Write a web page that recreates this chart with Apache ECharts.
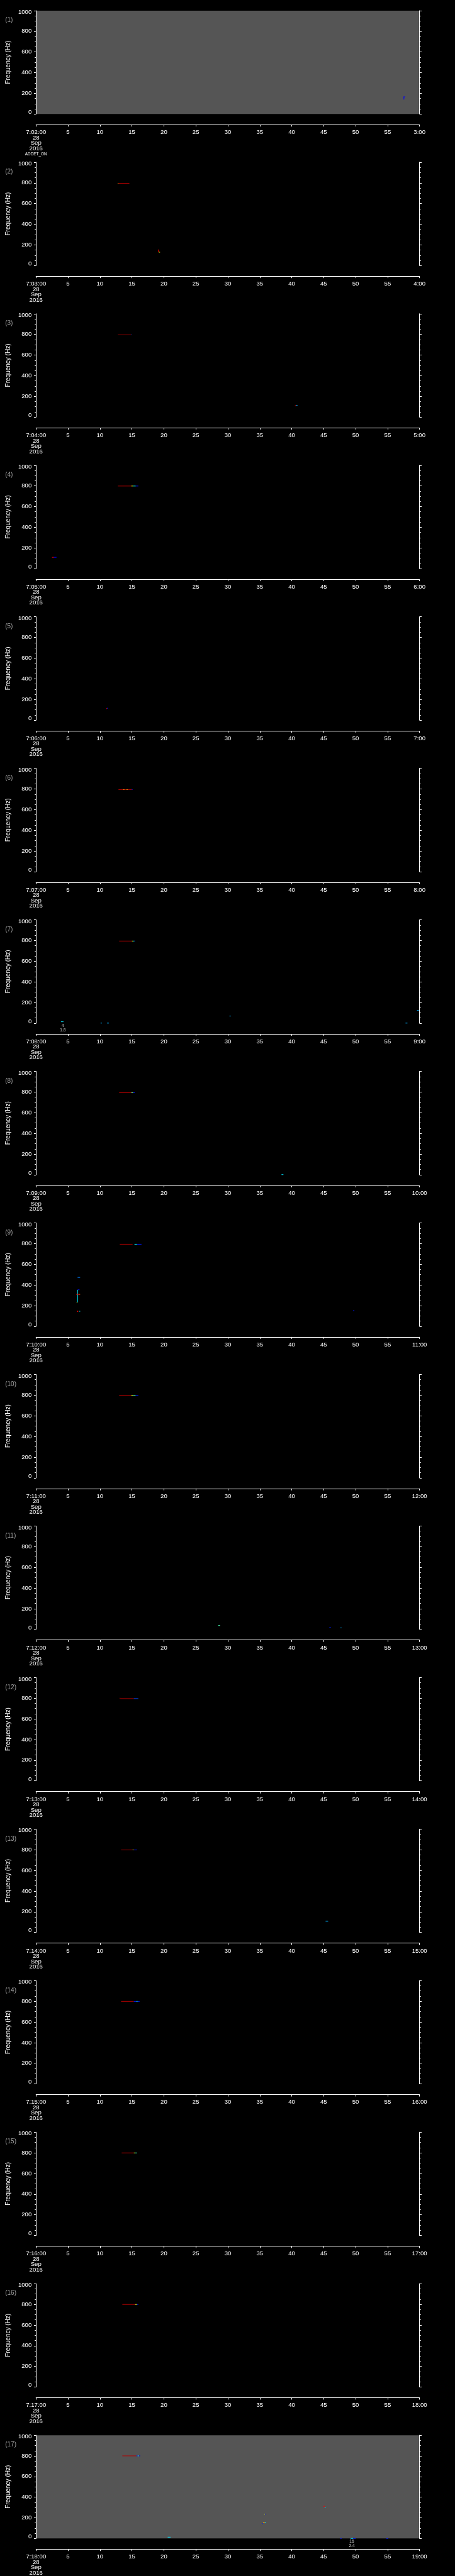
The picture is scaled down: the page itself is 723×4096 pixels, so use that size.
<!DOCTYPE html>
<html>
<head>
<meta charset="utf-8">
<script src="https://cdn.jsdelivr.net/npm/echarts@6/dist/echarts.min.js"></script>
<style>
  html, body { margin: 0; padding: 0; background: #000; }
  #chart { width: 723px; height: 4096px; }
</style>
</head>
<body>
<div id="chart"></div>
<script>
// one panel per minute, 7:02 .. 7:18
var startLabels = ['7:02:00', '7:03:00', '7:04:00', '7:05:00', '7:06:00', '7:07:00', '7:08:00', '7:09:00', '7:10:00',
    '7:11:00', '7:12:00', '7:13:00', '7:14:00', '7:15:00', '7:16:00', '7:17:00', '7:18:00'];
var endLabels = ['3:00', '4:00', '5:00', '6:00', '7:00', '8:00', '9:00', '10:00', '11:00',
    '12:00', '13:00', '14:00', '15:00', '16:00', '17:00', '18:00', '19:00'];
var dateLines = ['28', 'Sep', '2016'];
var firstPanelTag = 'ADDET_ON';
var timeRange = [0, 60], timeStep = 5;
var freqRange = [0, 1000], freqStep = 200;
var greyPanels = [1, 17];

// marks: [t0 s, t1 s, f0 Hz, f1 Hz, level 0..1]
var p01 = [[57.5, 57.6, 140, 168, 0.12], [57.5, 57.75, 165, 169, 0.12]];
var p02 = [[12.8, 12.9, 794, 798, 0.62], [12.9, 14.6, 794, 798, 0.95], [19.1, 19.2, 130, 155, 0.88], [19.2, 19.4, 128, 132, 0.62]];
var p03 = [[12.8, 14.9, 794, 798, 0.95], [14.9, 15.0, 794, 798, 0.2], [40.5, 40.7, 108, 113, 0.88], [40.7, 40.9, 110, 116, 0.3]];
var p04 = [[12.8, 14.9, 798, 802, 0.95], [14.9, 15.2, 798, 802, 0.62], [15.2, 15.6, 798, 802, 0.38], [15.6, 16.0, 798, 802, 0.15],
    [2.5, 2.8, 107, 112, 0.88], [2.8, 3.2, 107, 112, 0.12]];
var p05 = [[11.0, 11.1, 110, 114, 0.88], [11.1, 11.25, 112, 118, 0.15]];
var p06 = [[12.9, 15.0, 794, 798, 0.95], [13.7, 13.8, 794, 798, 0.62], [14.2, 14.3, 794, 798, 0.62], [15.0, 15.1, 794, 798, 0.15]];
var p07 = [[13.0, 15.0, 794, 798, 0.95], [15.0, 15.2, 794, 798, 0.62], [15.2, 15.4, 794, 798, 0.38], [15.4, 15.5, 794, 798, 0.15],
    [3.9, 4.3, 13, 17, 0.35], [10.1, 10.3, 0, 4, 0.3], [11.1, 11.4, 0, 4, 0.3], [30.3, 30.4, 62, 75, 0.3],
    [59.6, 59.9, 122, 128, 0.3], [57.8, 58.1, 0, 4, 0.3]];
var p08 = [[13.0, 14.9, 793, 797, 0.95], [14.9, 15.2, 793, 797, 0.5], [15.2, 15.45, 793, 797, 0.15], [38.4, 38.7, 0, 4, 0.35]];
var p09 = [[13.1, 15.1, 793, 797, 0.95], [15.4, 15.8, 793, 797, 0.38], [15.8, 16.5, 793, 797, 0.15],
    [6.5, 6.9, 470, 476, 0.25], [6.5, 6.8, 350, 356, 0.15], [6.45, 6.52, 232, 352, 0.36],
    [6.3, 6.7, 306, 312, 0.88], [6.7, 6.9, 306, 312, 0.78], [6.35, 6.45, 229, 235, 0.62],
    [6.4, 6.6, 140, 150, 0.88], [6.8, 6.9, 140, 150, 0.36], [49.6, 49.8, 149, 154, 0.15]];
var p10 = [[13.0, 14.9, 798, 802, 0.95], [14.9, 15.2, 798, 802, 0.6], [15.2, 15.6, 798, 802, 0.45], [15.6, 16.0, 798, 802, 0.15]];
var p11 = [[28.5, 28.8, 35, 40, 0.45], [45.9, 46.1, 17, 22, 0.15], [47.6, 47.8, 13, 17, 0.3]];
var p12 = [[13.1, 13.2, 799, 803, 0.88], [13.2, 15.3, 795, 799, 0.95], [15.3, 16.0, 795, 799, 0.2]];
var p13 = [[13.3, 15.1, 797, 801, 0.95], [15.1, 15.3, 797, 801, 0.62], [15.3, 15.8, 797, 801, 0.15], [45.3, 45.7, 106, 111, 0.3]];
var p14 = [[13.3, 15.3, 798, 802, 0.95], [15.3, 15.7, 798, 802, 0.15], [15.7, 15.9, 798, 802, 0.35], [15.9, 16.2, 798, 802, 0.15]];
var p15 = [[13.4, 15.3, 798, 802, 0.95], [15.3, 15.5, 798, 802, 0.6], [15.5, 15.8, 798, 802, 0.45]];
var p16 = [[13.5, 15.5, 798, 802, 0.95], [15.5, 15.8, 798, 802, 0.6], [15.8, 16.0, 798, 802, 0.15]];
var p17 = [[13.5, 15.7, 799, 803, 0.95], [15.7, 15.9, 799, 803, 0.15], [15.9, 16.1, 799, 803, 0.35], [16.1, 16.3, 799, 803, 0.1],
    [20.6, 21.05, 11, 15, 0.35], [35.4, 35.5, 140, 148, 0.15], [35.5, 35.8, 152, 157, 0.7], [35.8, 36.0, 152, 157, 0.35],
    [35.7, 35.8, 234, 238, 0.6], [35.8, 35.95, 234, 238, 0.15], [45.0, 45.15, 305, 316, 0.88], [45.15, 45.3, 298, 302, 0.35],
    [47.6, 47.8, 0, 3, 0.15], [49.2, 49.6, 0, 3, 0.35], [49.6, 50.0, 0, 3, 0.15], [54.8, 55.1, 0, 3, 0.15]];
var panelMarks = [p01, p02, p03, p04, p05, p06, p07, p08, p09, p10, p11, p12, p13, p14, p15, p16, p17];

// small numbers printed under the time axis in two panels
var notePanels = [7, 17];
var noteTimes = [4.2, 49.4];
var noteText = [['4', '1.8'], ['16', '2.4']];

var jet = ['#00007f', '#0000ff', '#007fff', '#00ffff', '#7fff7f', '#ffff00', '#ff7f00', '#ff0000', '#7f0000'];

var FONT = 'Liberation Sans';
var pitch = 240.95, top0 = 16.94, plotH = 164.3, left = 57, plotW = 609.7;

var grids = [], xAxes = [], yAxes = [], series = [], graphics = [], markSeries = [];

function renderMark(params, api) {
    var a = api.coord([api.value(0), api.value(3)]);
    var b = api.coord([api.value(1), api.value(2)]);
    return {
        type: 'rect',
        shape: {x: a[0], y: a[1], width: Math.max(b[0] - a[0], 1), height: Math.max(b[1] - a[1], 1)},
        style: {fill: api.visual('color')}
    };
}

startLabels.forEach(function (start, i) {
    var top = top0 + i * pitch;
    var grey = greyPanels.indexOf(i + 1) >= 0;
    grids.push({
        left: left, top: top, width: plotW, height: plotH,
        show: grey, backgroundColor: '#555555', borderWidth: 0
    });
    xAxes.push({
        type: 'value', gridIndex: i, min: timeRange[0], max: timeRange[1], interval: timeStep,
        position: 'bottom', offset: 17,
        axisLine: {show: true, onZero: false, lineStyle: {color: '#fff', width: 1}},
        axisTick: {show: true, length: 3, lineStyle: {color: '#fff'}},
        splitLine: {show: false},
        axisLabel: {
            color: '#fff', margin: 8, showMinLabel: true, showMaxLabel: true,
            formatter: function (v) {
                if (v === timeRange[0]) {
                    var s = '{t|' + start + '}';
                    dateLines.forEach(function (d) { s += '\n{t|' + d + '}'; });
                    if (i === 0) s += '\n{s|' + firstPanelTag + '}';
                    return s;
                }
                if (v === timeRange[1]) return '{t|' + endLabels[i] + '}';
                return '{t|' + v + '}';
            },
            rich: {
                t: {fontFamily: FONT, fontSize: 9.6, lineHeight: 8.5, color: '#fff', align: 'center'},
                s: {fontFamily: FONT, fontSize: 6.4, lineHeight: 9.6, color: '#fff', align: 'center'}
            }
        }
    });
    var yBase = {
        type: 'value', gridIndex: i, min: freqRange[0], max: freqRange[1], interval: freqStep,
        axisLine: {show: true, lineStyle: {color: '#fff', width: 1}},
        axisTick: {show: true, length: 3.3, lineStyle: {color: '#fff'}},
        minorTick: {show: true, splitNumber: 4, length: 2, lineStyle: {color: '#fff'}},
        splitLine: {show: false}
    };
    yAxes.push(Object.assign({}, yBase, {
        position: 'left',
        name: 'Frequency (Hz)', nameLocation: 'middle', nameGap: 31,
        nameTextStyle: {color: '#fff', fontFamily: FONT, fontSize: 10},
        axisLabel: {
            color: '#fff', margin: 7,
            formatter: function (v) {
                if (v === freqRange[1]) return '{hi|' + v + '}';
                if (v === freqRange[0]) return '{lo|' + v + '}';
                return '{n|' + v + '}';
            },
            rich: {
                n: {fontFamily: FONT, fontSize: 9.6, color: '#fff'},
                hi: {fontFamily: FONT, fontSize: 9.6, color: '#fff', padding: [5, 0, 0, 0]},
                lo: {fontFamily: FONT, fontSize: 9.6, color: '#fff', padding: [0, 0, 5.6, 0]}
            }
        }
    }));
    yAxes.push(Object.assign({}, yBase, {
        position: 'right',
        axisLabel: {show: false}
    }));
    markSeries.push(series.length);
    series.push({
        type: 'custom', xAxisIndex: i, yAxisIndex: 2 * i,
        renderItem: renderMark,
        encode: {x: [0, 1], y: [2, 3]},
        data: panelMarks[i],
        silent: true
    });
    graphics.push({
        type: 'text', left: 8.2, top: top + 10.5,
        style: {text: '(' + (i + 1) + ')', fill: '#a0a0a0', font: '10px "' + FONT + '"'}
    });
});

notePanels.forEach(function (p, j) {
    series.push({
        type: 'scatter', xAxisIndex: p - 1, yAxisIndex: 2 * (p - 1),
        symbolSize: 0.1, silent: true,
        data: [[noteTimes[j], freqRange[0]]],
        label: {
            show: true, position: 'bottom', distance: 1,
            formatter: '{n|' + noteText[j][0] + '}\n{n|' + noteText[j][1] + '}',
            rich: {n: {fontFamily: FONT, fontSize: 6.6, lineHeight: 7, color: '#fff', align: 'center'}}
        }
    });
});

var chart = echarts.init(document.getElementById('chart'));
chart.setOption({
    backgroundColor: '#000',
    animation: false,
    grid: grids,
    xAxis: xAxes,
    yAxis: yAxes,
    visualMap: {
        type: 'continuous', show: false, min: 0, max: 1, dimension: 4,
        seriesIndex: markSeries, inRange: {color: jet}
    },
    graphic: graphics,
    series: series
});
</script>
</body>
</html>
